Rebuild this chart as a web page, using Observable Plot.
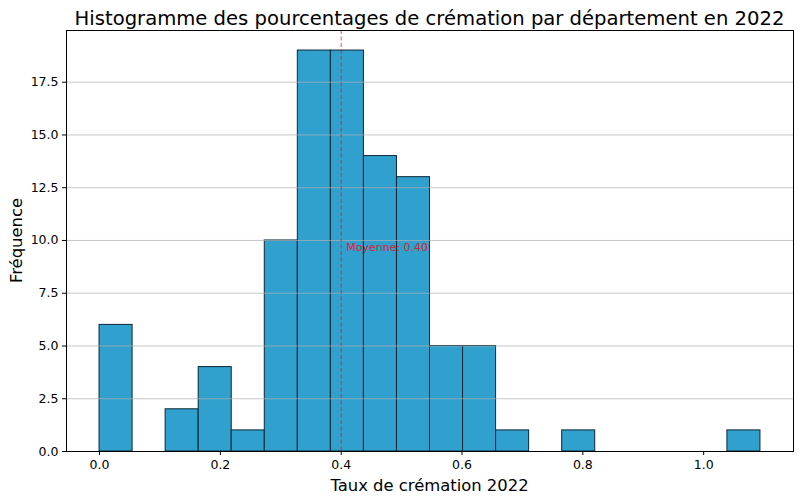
<!DOCTYPE html>
<html>
<head>
<meta charset="utf-8">
<script src="https://cdn.jsdelivr.net/npm/d3@7"></script>
<script src="https://cdn.jsdelivr.net/npm/@observablehq/plot@0.6"></script>
<style>
  html, body { margin: 0; padding: 0; background: #fff; }
  #chart svg { display: block; }
</style>
</head>
<body>
<div id="chart"></div>
<script>
const title = "Histogramme des pourcentages de crémation par département en 2022";
const xLabel = "Taux de crémation 2022";
const yLabel = "Fréquence";
const binEdges = [0.000, 0.0547, 0.1094, 0.1641, 0.2188, 0.2735, 0.3282, 0.3829, 0.4376, 0.4923, 0.5470,
                  0.6017, 0.6564, 0.7111, 0.7658, 0.8205, 0.8752, 0.9299, 0.9846, 1.0393, 1.0940];
const counts = [6, 0, 2, 4, 1, 10, 19, 19, 14, 13, 5, 5, 1, 0, 1, 0, 0, 0, 0, 1];
const meanValue = 0.40;
const meanLabel = "Moyenne: 0.40";
const xTicks = [0, 0.2, 0.4, 0.6, 0.8, 1.0];
const yTicks = [0, 2.5, 5, 7.5, 10, 12.5, 15, 17.5];

const bins = counts.map((c, i) => ({x1: binEdges[i], x2: binEdges[i + 1], count: c})).filter(d => d.count > 0);

const font = "DejaVu Sans, sans-serif";
const W = 800, H = 501;
const mL = 66, mR = 7, mT = 30, mB = 50;

const plot = Plot.plot({
  width: W,
  height: H,
  marginLeft: mL,
  marginRight: mR,
  marginTop: mT,
  marginBottom: mB,
  style: {fontFamily: font, background: "white"},
  x: {domain: [-0.0547, 1.1487]},
  y: {domain: [0, 19.95]},
  marks: [
    Plot.rectY(bins, {x1: "x1", x2: "x2", y: "count", fill: "#30a0ce", stroke: "#0d2633", strokeWidth: 1, insetLeft: 0, insetRight: 0}),
    Plot.gridY(yTicks.filter(t => t > 0), {stroke: "#b0b0b0", strokeOpacity: 0.7, strokeWidth: 1}),
    Plot.ruleX([meanValue], {stroke: "red", strokeOpacity: 0.7, strokeDasharray: "4,2.5", strokeWidth: 1}),
    Plot.text([meanLabel], {x: meanValue, y: 9.5, text: d => d, dx: 5, textAnchor: "start", lineAnchor: "bottom", fill: "red", fillOpacity: 0.8, fontSize: 11}),
    Plot.axisX(xTicks, {tickFormat: d => d.toFixed(1), tickSize: 4, tickPadding: 5, fontSize: 12.5, label: null, stroke: "#000", fill: "#000"}),
    Plot.axisY(yTicks, {tickFormat: d => d.toFixed(1), tickSize: 4, tickPadding: 4, fontSize: 12.5, label: null, stroke: "#000", fill: "#000"}),
    Plot.frame({stroke: "#000", strokeWidth: 1})
  ]
});

const svg = d3.select(plot);
svg.append("text")
  .attr("x", (mL + W - mR) / 2).attr("y", 25)
  .attr("text-anchor", "middle")
  .attr("font-family", font).attr("font-size", 19.6).attr("fill", "#000")
  .text(title);
svg.append("text")
  .attr("x", (mL + W - mR) / 2).attr("y", 491)
  .attr("text-anchor", "middle")
  .attr("font-family", font).attr("font-size", 16.4).attr("fill", "#000")
  .text(xLabel);
svg.append("text")
  .attr("transform", `translate(22, ${(mT + H - mB) / 2}) rotate(-90)`)
  .attr("text-anchor", "middle")
  .attr("font-family", font).attr("font-size", 16.4).attr("fill", "#000")
  .text(yLabel);

document.getElementById("chart").appendChild(plot);
</script>
</body>
</html>
